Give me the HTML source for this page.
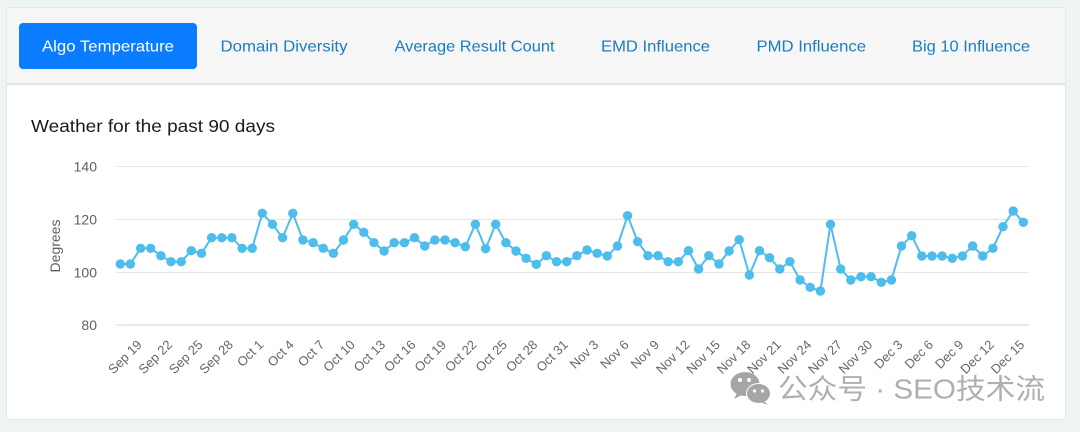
<!DOCTYPE html>
<html>
<head>
<meta charset="utf-8">
<style>
html,body{margin:0;padding:0;background:#eef5f4;}
svg{display:block;}
</style>
</head>
<body>
<svg width="1080" height="432" viewBox="0 0 1080 432" xmlns="http://www.w3.org/2000/svg">
  <rect x="0" y="0" width="1080" height="432" fill="#eef5f4"/>
  <!-- card -->
  <rect x="6.5" y="7.5" width="1059" height="412" fill="#ffffff" stroke="#e2e6e5" stroke-width="1"/>
  <rect x="7" y="8" width="1058" height="76" fill="#f6f6f6"/>
  <line x1="7" y1="84" x2="1065" y2="84" stroke="#e4e4e4" stroke-width="2"/>
  <!-- tabs -->
  <rect x="19" y="23" width="178" height="46" rx="4" ry="4" fill="#0a7cff"/>
  <g font-family="'Liberation Sans', sans-serif" font-size="16">
    <text x="42" y="51.5" fill="#ffffff" textLength="132" lengthAdjust="spacingAndGlyphs">Algo Temperature</text>
    <text x="220.5" y="51.5" fill="#1a7dc3" textLength="127" lengthAdjust="spacingAndGlyphs">Domain Diversity</text>
    <text x="394.5" y="51.5" fill="#1a7dc3" textLength="160" lengthAdjust="spacingAndGlyphs">Average Result Count</text>
    <text x="601" y="51.5" fill="#1a7dc3" textLength="109" lengthAdjust="spacingAndGlyphs">EMD Influence</text>
    <text x="756.5" y="51.5" fill="#1a7dc3" textLength="109.5" lengthAdjust="spacingAndGlyphs">PMD Influence</text>
    <text x="912" y="51.5" fill="#1a7dc3" textLength="118" lengthAdjust="spacingAndGlyphs">Big 10 Influence</text>
  </g>
  <!-- title -->
  <text x="31" y="132" font-family="'Liberation Sans', sans-serif" font-size="17.5" fill="#1a1a1a" textLength="244" lengthAdjust="spacingAndGlyphs">Weather for the past 90 days</text>

  <!-- grid -->
  <g stroke="#e6e6e6" stroke-width="1">
    <line x1="116" y1="166.5" x2="1029" y2="166.5"/>
    <line x1="116" y1="219.5" x2="1029" y2="219.5"/>
    <line x1="116" y1="272.5" x2="1029" y2="272.5"/>
  </g>
  <line x1="116" y1="325" x2="1029" y2="325" stroke="#ccd6eb" stroke-width="1"/>

  <!-- y labels -->
  <g font-family="'Liberation Sans', sans-serif" font-size="14" fill="#606060" text-anchor="end">
    <text x="97" y="171.5">140</text>
    <text x="97" y="224.5">120</text>
    <text x="97" y="277.5">100</text>
    <text x="97" y="330">80</text>
  </g>
  <text x="0" y="0" transform="translate(60,246) rotate(-90)" font-family="'Liberation Sans', sans-serif" font-size="14" fill="#606060" text-anchor="middle">Degrees</text>

  <!-- series -->
  <polyline fill="none" stroke="#4dbdec" stroke-width="2" stroke-linejoin="round" points="
120.3,264 130.4,264 140.6,248.3 150.7,248.3 160.9,255.7 171.0,261.7 181.2,261.7 191.3,250.7 201.5,253.3 211.6,237.7
221.8,237.7 231.9,237.7 242.1,248.3 252.2,248.3 262.3,213.3 272.5,224.3 282.6,237.7 292.8,213.3 302.9,240 313.1,242.7
323.2,248.3 333.4,253.3 343.5,240 353.7,224.3 363.8,232.3 374.0,242.7 384.1,251 394.2,242.7 404.4,242.7 414.5,237.7
424.7,246 434.8,240 445.0,240 455.1,242.7 465.3,246.7 475.4,224.3 485.6,248.7 495.7,224.3 505.9,242.7 516.0,251
526.1,258.3 536.3,264.3 546.4,255.7 556.6,261.7 566.7,261.7 576.9,255.7 587.0,250 597.2,253.3 607.3,256 617.5,246
627.6,215.7 637.7,241.7 647.9,255.7 658.0,255.7 668.2,261.7 678.3,261.7 688.5,250.7 698.6,269 708.8,255.7 718.9,264
729.1,251 739.2,239.7 749.4,275 759.5,250.7 769.6,257.7 779.8,269 789.9,261.7 800.1,280 810.2,287.3 820.4,291
830.5,224.3 840.7,269 850.8,280 861.0,276.7 871.1,276.7 881.3,282.3 891.4,280 901.5,246 911.7,235.7 921.8,256
932.0,256 942.1,256 952.3,258.3 962.4,256 972.6,246 982.7,256 992.9,248.3 1003.0,226.7 1013.2,211 1023.3,222.3"/>
  <g fill="#4dbdec">
    <circle cx="120.3" cy="264" r="4.7"/><circle cx="130.4" cy="264" r="4.7"/><circle cx="140.6" cy="248.3" r="4.7"/><circle cx="150.7" cy="248.3" r="4.7"/><circle cx="160.9" cy="255.7" r="4.7"/><circle cx="171.0" cy="261.7" r="4.7"/><circle cx="181.2" cy="261.7" r="4.7"/><circle cx="191.3" cy="250.7" r="4.7"/><circle cx="201.5" cy="253.3" r="4.7"/><circle cx="211.6" cy="237.7" r="4.7"/>
    <circle cx="221.8" cy="237.7" r="4.7"/><circle cx="231.9" cy="237.7" r="4.7"/><circle cx="242.1" cy="248.3" r="4.7"/><circle cx="252.2" cy="248.3" r="4.7"/><circle cx="262.3" cy="213.3" r="4.7"/><circle cx="272.5" cy="224.3" r="4.7"/><circle cx="282.6" cy="237.7" r="4.7"/><circle cx="292.8" cy="213.3" r="4.7"/><circle cx="302.9" cy="240" r="4.7"/><circle cx="313.1" cy="242.7" r="4.7"/>
    <circle cx="323.2" cy="248.3" r="4.7"/><circle cx="333.4" cy="253.3" r="4.7"/><circle cx="343.5" cy="240" r="4.7"/><circle cx="353.7" cy="224.3" r="4.7"/><circle cx="363.8" cy="232.3" r="4.7"/><circle cx="374.0" cy="242.7" r="4.7"/><circle cx="384.1" cy="251" r="4.7"/><circle cx="394.2" cy="242.7" r="4.7"/><circle cx="404.4" cy="242.7" r="4.7"/><circle cx="414.5" cy="237.7" r="4.7"/>
    <circle cx="424.7" cy="246" r="4.7"/><circle cx="434.8" cy="240" r="4.7"/><circle cx="445.0" cy="240" r="4.7"/><circle cx="455.1" cy="242.7" r="4.7"/><circle cx="465.3" cy="246.7" r="4.7"/><circle cx="475.4" cy="224.3" r="4.7"/><circle cx="485.6" cy="248.7" r="4.7"/><circle cx="495.7" cy="224.3" r="4.7"/><circle cx="505.9" cy="242.7" r="4.7"/><circle cx="516.0" cy="251" r="4.7"/>
    <circle cx="526.1" cy="258.3" r="4.7"/><circle cx="536.3" cy="264.3" r="4.7"/><circle cx="546.4" cy="255.7" r="4.7"/><circle cx="556.6" cy="261.7" r="4.7"/><circle cx="566.7" cy="261.7" r="4.7"/><circle cx="576.9" cy="255.7" r="4.7"/><circle cx="587.0" cy="250" r="4.7"/><circle cx="597.2" cy="253.3" r="4.7"/><circle cx="607.3" cy="256" r="4.7"/><circle cx="617.5" cy="246" r="4.7"/>
    <circle cx="627.6" cy="215.7" r="4.7"/><circle cx="637.7" cy="241.7" r="4.7"/><circle cx="647.9" cy="255.7" r="4.7"/><circle cx="658.0" cy="255.7" r="4.7"/><circle cx="668.2" cy="261.7" r="4.7"/><circle cx="678.3" cy="261.7" r="4.7"/><circle cx="688.5" cy="250.7" r="4.7"/><circle cx="698.6" cy="269" r="4.7"/><circle cx="708.8" cy="255.7" r="4.7"/><circle cx="718.9" cy="264" r="4.7"/>
    <circle cx="729.1" cy="251" r="4.7"/><circle cx="739.2" cy="239.7" r="4.7"/><circle cx="749.4" cy="275" r="4.7"/><circle cx="759.5" cy="250.7" r="4.7"/><circle cx="769.6" cy="257.7" r="4.7"/><circle cx="779.8" cy="269" r="4.7"/><circle cx="789.9" cy="261.7" r="4.7"/><circle cx="800.1" cy="280" r="4.7"/><circle cx="810.2" cy="287.3" r="4.7"/><circle cx="820.4" cy="291" r="4.7"/>
    <circle cx="830.5" cy="224.3" r="4.7"/><circle cx="840.7" cy="269" r="4.7"/><circle cx="850.8" cy="280" r="4.7"/><circle cx="861.0" cy="276.7" r="4.7"/><circle cx="871.1" cy="276.7" r="4.7"/><circle cx="881.3" cy="282.3" r="4.7"/><circle cx="891.4" cy="280" r="4.7"/><circle cx="901.5" cy="246" r="4.7"/><circle cx="911.7" cy="235.7" r="4.7"/><circle cx="921.8" cy="256" r="4.7"/>
    <circle cx="932.0" cy="256" r="4.7"/><circle cx="942.1" cy="256" r="4.7"/><circle cx="952.3" cy="258.3" r="4.7"/><circle cx="962.4" cy="256" r="4.7"/><circle cx="972.6" cy="246" r="4.7"/><circle cx="982.7" cy="256" r="4.7"/><circle cx="992.9" cy="248.3" r="4.7"/><circle cx="1003.0" cy="226.7" r="4.7"/><circle cx="1013.2" cy="211" r="4.7"/><circle cx="1023.3" cy="222.3" r="4.7"/>
  </g>

  <!-- x labels -->
  <g font-family="'Liberation Sans', sans-serif" font-size="13" fill="#666666" text-anchor="end">
    <text x="142.6" y="345.5" transform="rotate(-45 142.6 345.5)">Sep 19</text>
    <text x="173.0" y="345.5" transform="rotate(-45 173.0 345.5)">Sep 22</text>
    <text x="203.5" y="345.5" transform="rotate(-45 203.5 345.5)">Sep 25</text>
    <text x="233.9" y="345.5" transform="rotate(-45 233.9 345.5)">Sep 28</text>
    <text x="264.3" y="345.5" transform="rotate(-45 264.3 345.5)">Oct 1</text>
    <text x="294.8" y="345.5" transform="rotate(-45 294.8 345.5)">Oct 4</text>
    <text x="325.2" y="345.5" transform="rotate(-45 325.2 345.5)">Oct 7</text>
    <text x="355.7" y="345.5" transform="rotate(-45 355.7 345.5)">Oct 10</text>
    <text x="386.1" y="345.5" transform="rotate(-45 386.1 345.5)">Oct 13</text>
    <text x="416.5" y="345.5" transform="rotate(-45 416.5 345.5)">Oct 16</text>
    <text x="447.0" y="345.5" transform="rotate(-45 447.0 345.5)">Oct 19</text>
    <text x="477.4" y="345.5" transform="rotate(-45 477.4 345.5)">Oct 22</text>
    <text x="507.9" y="345.5" transform="rotate(-45 507.9 345.5)">Oct 25</text>
    <text x="538.3" y="345.5" transform="rotate(-45 538.3 345.5)">Oct 28</text>
    <text x="568.7" y="345.5" transform="rotate(-45 568.7 345.5)">Oct 31</text>
    <text x="599.2" y="345.5" transform="rotate(-45 599.2 345.5)">Nov 3</text>
    <text x="629.6" y="345.5" transform="rotate(-45 629.6 345.5)">Nov 6</text>
    <text x="660.0" y="345.5" transform="rotate(-45 660.0 345.5)">Nov 9</text>
    <text x="690.5" y="345.5" transform="rotate(-45 690.5 345.5)">Nov 12</text>
    <text x="720.9" y="345.5" transform="rotate(-45 720.9 345.5)">Nov 15</text>
    <text x="751.4" y="345.5" transform="rotate(-45 751.4 345.5)">Nov 18</text>
    <text x="781.8" y="345.5" transform="rotate(-45 781.8 345.5)">Nov 21</text>
    <text x="812.2" y="345.5" transform="rotate(-45 812.2 345.5)">Nov 24</text>
    <text x="842.7" y="345.5" transform="rotate(-45 842.7 345.5)">Nov 27</text>
    <text x="873.1" y="345.5" transform="rotate(-45 873.1 345.5)">Nov 30</text>
    <text x="903.5" y="345.5" transform="rotate(-45 903.5 345.5)">Dec 3</text>
    <text x="934.0" y="345.5" transform="rotate(-45 934.0 345.5)">Dec 6</text>
    <text x="964.4" y="345.5" transform="rotate(-45 964.4 345.5)">Dec 9</text>
    <text x="994.9" y="345.5" transform="rotate(-45 994.9 345.5)">Dec 12</text>
    <text x="1025.3" y="345.5" transform="rotate(-45 1025.3 345.5)">Dec 15</text>
  </g>

  <!-- watermark -->
  <g fill="#a6a6a6">
    <ellipse cx="745" cy="384" rx="14.5" ry="12"/>
    <path d="M737 393 L734 399 L742 395 Z"/>
  </g>
  <g>
    <ellipse cx="758.5" cy="393.5" rx="12.5" ry="10.5" fill="#ffffff"/>
    <ellipse cx="758.5" cy="393.5" rx="11.5" ry="9.5" fill="#a6a6a6"/>
    <path d="M764 401 L768 405 L760 402 Z" fill="#a6a6a6"/>
    <circle cx="740" cy="380" r="2" fill="#ffffff"/>
    <circle cx="749" cy="380" r="2" fill="#ffffff"/>
    <circle cx="754.5" cy="391" r="1.6" fill="#ffffff"/>
    <circle cx="762.5" cy="391" r="1.6" fill="#ffffff"/>
  </g>
  <text x="778" y="398.5" font-family="'Liberation Sans', 'Noto Sans CJK SC', sans-serif" font-size="28" fill="#afafaf" textLength="267" lengthAdjust="spacingAndGlyphs">公众号 · SEO技术流</text>
</svg>
</body>
</html>
